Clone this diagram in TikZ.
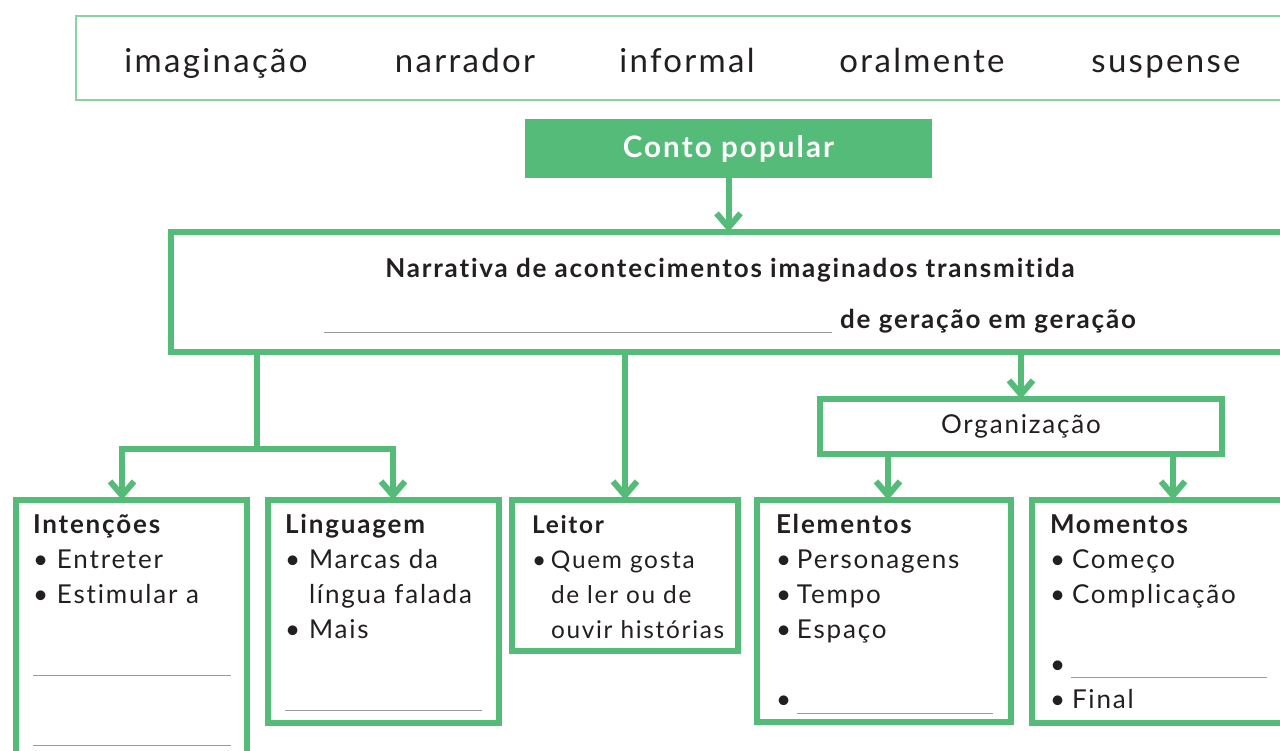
\documentclass[tikz,border=0pt]{standalone}
\usepackage{fontspec}
\setmainfont[LetterSpace=7, Ligatures={NoCommon}]{Lato}
\usetikzlibrary{arrows.meta}
\definecolor{verde}{HTML}{55BB79}
\definecolor{verdeclaro}{HTML}{8AD2A3}
\definecolor{tinta}{HTML}{231F20}
\definecolor{cinza}{HTML}{9A9A9A}
\newcommand{\marca}[1][12pt]{\makebox[#1][l]{\textbullet}}
\newcommand{\recuo}[1][12pt]{\hspace*{#1}}
\newcommand{\lacuna}[2]{\textcolor{cinza}{\rule[-#1]{#2}{0.7pt}}}
\tikzset{every node/.style={text=tinta, inner sep=0pt, outer sep=0pt},
  caixa/.style={draw=verde, line width=3pt},
  seta/.style={verde, line width=3pt, -{Straight Barb[length=7pt,width=12pt]}},
  ramo/.style={verde, line width=3pt},
  texto/.style={anchor=base west, align=left, font=\fontsize{13}{17.5}\selectfont}}

\begin{document}
\begin{tikzpicture}[x=0.5pt,y=-0.5pt]
  \useasboundingbox (0,0) rectangle (1280,750);
  \clip (0,0) rectangle (1280,750);
  % banco de palavras
  \node[draw=verdeclaro, line width=1pt, minimum width=612pt, minimum height=42pt] (banco) at (688,58) {};
  \foreach \palavra/\px in {imaginação/216, narrador/465, informal/687, oralmente/922, suspense/1166}
    \node[anchor=base, font=\fontsize{16.5}{19}\selectfont] (p-\px) at (\px,72) {\palavra};

  \node[fill=verde, text=white, minimum width=203.5pt, minimum height=29.5pt, font=\bfseries\fontsize{14.8}{17}\selectfont] (conto) at (728.5,148.5) {Conto popular};
  \node[caixa, minimum width=564.5pt, minimum height=60pt] (narrativa) at (735.5,292) {};
  \node[anchor=base, align=center, font=\bfseries\fontsize{13}{25.5}\selectfont] (definicao) at (730,328)
    {Narrativa de acontecimentos imaginados transmitida\\ \lacuna{2.5pt}{254pt}\ de geração em geração};
  \node[caixa, minimum width=201pt, minimum height=27.5pt, font=\fontsize{13}{15}\selectfont] (org) at (1021,426.5) {Organização};

  % caixas de baixo
  \node[caixa, minimum width=115.75pt, minimum height=145pt] (intencoes) at (131.25,645) {};
  \node[caixa, minimum width=115.5pt, minimum height=111.5pt] (linguagem) at (383.5,611.5) {};
  \node[caixa, minimum width=113pt, minimum height=75.5pt] (leitor) at (625,575.5) {};
  \node[caixa, minimum width=127pt, minimum height=111pt] (elementos) at (884,611) {};
  \node[caixa, minimum width=134pt, minimum height=111.5pt] (momentos) at (1166,611.5) {};

  \node[texto] (t-intencoes) at (33,743) {\textbf{Intenções}\\ \marca Entreter\\ \marca Estimular a\\ \mbox{}\\
    \lacuna{1.5pt}{99pt}\\ \mbox{}\\ \lacuna{1.5pt}{99pt}};
  \node[texto] (t-linguagem) at (285,708) {\textbf{Linguagem}\\ \marca Marcas da\\ \recuo língua falada\\ \marca Mais\\ \mbox{}\\
    \lacuna{1.5pt}{98.5pt}};
  \node[texto, font=\fontsize{12.2}{17.5}\selectfont] (t-leitor) at (532,638) {\textbf{Leitor}\\ \marca[9.5pt]Quem gosta\\ \recuo[9.5pt]de ler ou de\\ \recuo[9.5pt]ouvir histórias};
  \node[texto] (t-elementos) at (776,708) {\textbf{Elementos}\\ \marca[10.5pt]Personagens\\ \marca[10.5pt]Tempo\\ \marca[10.5pt]Espaço\\ \mbox{}\\
    \marca[10.5pt]\lacuna{3pt}{98pt}};
  \node[texto] (t-momentos) at (1050,708) {\textbf{Momentos}\\ \marca[11pt]Começo\\ \marca[11pt]Complicação\\ \mbox{}\\
    \marca[10.5pt]\lacuna{2.5pt}{98pt}\\ \marca[11pt]Final};

  % ligacoes
  \draw[seta] (conto.south) -- (conto.south |- narrativa.north);
  \coordinate (bifurca) at (257,449);
  \draw[ramo] (narrativa.south -| bifurca) -- (bifurca);
  \draw[seta] (bifurca) -| ([xshift=-4.6pt]intencoes.north);
  \draw[seta] (bifurca) -| ([xshift=4.75pt]linguagem.north);
  \draw[seta] (narrativa.south -| leitor.north) -- (leitor.north);
  \draw[seta] (narrativa.south -| org.north) -- (org.north);
  \draw[seta] ([xshift=2pt]elementos.north |- org.south) -- ([xshift=2pt]elementos.north);
  \draw[seta] ([xshift=3.5pt]momentos.north |- org.south) -- ([xshift=3.5pt]momentos.north);
\end{tikzpicture}
\end{document}
